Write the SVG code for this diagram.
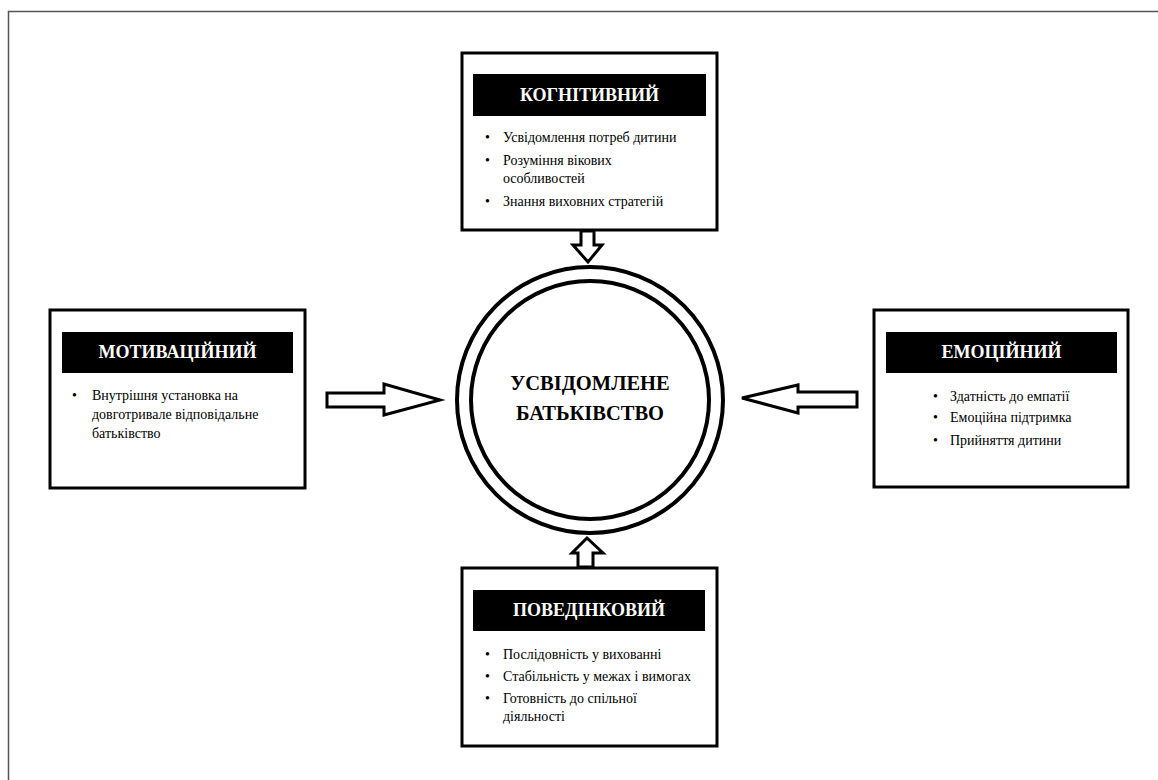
<svg xmlns="http://www.w3.org/2000/svg" width="1158" height="780" viewBox="0 0 1158 780">
<style>
.box{fill:#fff;stroke:#000;stroke-width:3}
.hdr{fill:#000}
.ht{font-family:"Liberation Serif",serif;font-weight:bold;font-size:18px;fill:#fff;text-anchor:middle}
.bt{font-family:"Liberation Serif",serif;font-size:14px;fill:#000}
.arr{fill:#fff;stroke:#000;stroke-width:3;stroke-linejoin:miter}
.ring{fill:none;stroke:#000;stroke-width:4}
.ct{font-family:"Liberation Serif",serif;font-weight:bold;font-size:20.5px;fill:#000;text-anchor:middle}
</style>
<rect x="0" y="0" width="1158" height="780" fill="#fff"/>
<path d="M8.5,780 V11.5 H1158" fill="none" stroke="#555" stroke-width="1.5"/>
<g id="connectors">
<path class="arr" d="M581,231 V245 H573 L588,262 L602,245 H594 V231 Z"/>
<path class="arr" d="M578,567 V553 H572 L587,538 L603,553 H593 V567 Z"/>
<path class="arr" d="M327,393 H384 V384 L440,400 L384,415 V407 H327 Z"/>
<path class="arr" d="M857,392 H798 V385 L742,398 L798,413 V407 H857 Z"/>
</g>
<g id="center">
<circle class="ring" cx="590" cy="400" r="133"/>
<circle class="ring" cx="590" cy="400" r="119"/>
<text class="ct" x="590" y="390">УСВІДОМЛЕНЕ</text>
<text class="ct" x="590" y="420">БАТЬКІВСТВО</text>
</g>
<g id="cognitive">
<rect class="box" x="462" y="53" width="255" height="177"/>
<rect class="hdr" x="473" y="74" width="233" height="42"/>
<text class="ht" x="589.5" y="101">КОГНІТИВНИЙ</text>
<text class="bt"><tspan x="485" y="142">•</tspan><tspan x="503" y="142">Усвідомлення потреб дитини</tspan><tspan x="485" y="165">•</tspan><tspan x="503" y="165">Розуміння вікових</tspan><tspan x="503" y="183">особливостей</tspan><tspan x="485" y="206">•</tspan><tspan x="503" y="206">Знання виховних стратегій</tspan></text>
</g>
<g id="motivational">
<rect class="box" x="50" y="310" width="255" height="178"/>
<rect class="hdr" x="62" y="332" width="231" height="41"/>
<text class="ht" x="177.5" y="358">МОТИВАЦІЙНИЙ</text>
<text class="bt"><tspan x="72" y="400">•</tspan><tspan x="92" y="400">Внутрішня установка на</tspan><tspan x="92" y="419">довготривале відповідальне</tspan><tspan x="92" y="438">батьківство</tspan></text>
</g>
<g id="emotional">
<rect class="box" x="874" y="310" width="254" height="177"/>
<rect class="hdr" x="886" y="332" width="231" height="41"/>
<text class="ht" x="1001.5" y="358">ЕМОЦІЙНИЙ</text>
<text class="bt"><tspan x="933" y="401">•</tspan><tspan x="950" y="401">Здатність до емпатії</tspan><tspan x="933" y="422">•</tspan><tspan x="950" y="422">Емоційна підтримка</tspan><tspan x="933" y="445">•</tspan><tspan x="950" y="445">Прийняття дитини</tspan></text>
</g>
<g id="behavioral">
<rect class="box" x="462" y="568" width="255" height="178"/>
<rect class="hdr" x="473" y="590" width="232" height="41"/>
<text class="ht" x="589" y="616">ПОВЕДІНКОВИЙ</text>
<text class="bt"><tspan x="485" y="659">•</tspan><tspan x="503" y="659">Послідовність у вихованні</tspan><tspan x="485" y="681">•</tspan><tspan x="503" y="681">Стабільність у межах і вимогах</tspan><tspan x="485" y="703">•</tspan><tspan x="503" y="703">Готовність до спільної</tspan><tspan x="503" y="721">діяльності</tspan></text>
</g>
</svg>
